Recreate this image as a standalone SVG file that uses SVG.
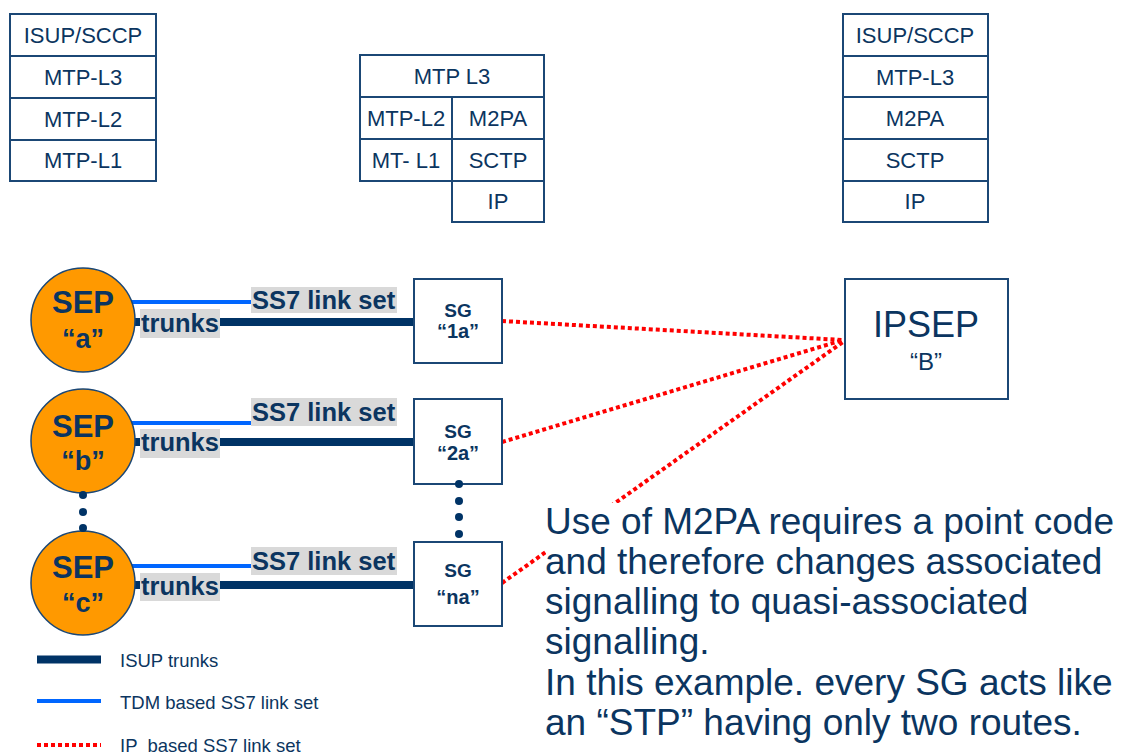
<svg xmlns="http://www.w3.org/2000/svg" width="1122" height="754" viewBox="0 0 1122 754">
<style>
.box{fill:#fff;stroke:#1b4775;stroke-width:2}
.st{font-family:"Liberation Sans",Arial,sans-serif;font-size:22px;fill:#0b3560;text-anchor:middle}
.big{font-family:"Liberation Sans",Arial,sans-serif;fill:#0b3560;text-anchor:middle}
.sep{fill:#ff9900;stroke:#1b4775;stroke-width:1.5}
.sept{font-family:"Liberation Sans",Arial,sans-serif;font-weight:bold;fill:#0b3560;text-anchor:middle}
.lbl{fill:#d9d9d9}
.lblt{font-family:"Liberation Sans",Arial,sans-serif;font-weight:bold;font-size:25.5px;fill:#0b3560}
.tdm{stroke:#0066ff;stroke-width:4}
.isup{stroke:#003366;stroke-width:8}
.ip{stroke:#ff0000;stroke-width:4;stroke-dasharray:4 3;fill:none}
.dot{fill:#003366}
.para{font-family:"Liberation Sans",Arial,sans-serif;font-size:37px;fill:#0b3560}
.leg{font-family:"Liberation Sans",Arial,sans-serif;font-size:18.5px;fill:#0b3560}
</style>

<g id="stack-sep">
<rect class="box" x="10" y="14" width="146" height="42"/>
<rect class="box" x="10" y="56" width="146" height="42"/>
<rect class="box" x="10" y="98" width="146" height="42"/>
<rect class="box" x="10" y="140" width="146" height="41"/>
<text class="st" x="83" y="43">ISUP/SCCP</text>
<text class="st" x="83" y="85">MTP-L3</text>
<text class="st" x="83" y="127">MTP-L2</text>
<text class="st" x="83" y="168">MTP-L1</text>
</g>

<g id="stack-sg">
<rect class="box" x="360" y="55" width="184" height="42"/>
<rect class="box" x="360" y="97" width="92" height="42"/>
<rect class="box" x="452" y="97" width="92" height="42"/>
<rect class="box" x="360" y="139" width="92" height="42"/>
<rect class="box" x="452" y="139" width="92" height="42"/>
<rect class="box" x="452" y="181" width="92" height="41"/>
<text class="st" x="452" y="84">MTP L3</text>
<text class="st" x="406" y="126">MTP-L2</text>
<text class="st" x="498" y="126">M2PA</text>
<text class="st" x="406" y="168">MT- L1</text>
<text class="st" x="498" y="168">SCTP</text>
<text class="st" x="498" y="209">IP</text>
</g>

<g id="stack-ipsep">
<rect class="box" x="843" y="14" width="145" height="42"/>
<rect class="box" x="843" y="56" width="145" height="41"/>
<rect class="box" x="843" y="97" width="145" height="42"/>
<rect class="box" x="843" y="139" width="145" height="42"/>
<rect class="box" x="843" y="181" width="145" height="41"/>
<text class="st" x="915" y="43">ISUP/SCCP</text>
<text class="st" x="915" y="85">MTP-L3</text>
<text class="st" x="915" y="126">M2PA</text>
<text class="st" x="915" y="168">SCTP</text>
<text class="st" x="915" y="209">IP</text>
</g>

<g id="connectors">
<line class="ip" x1="502" y1="321" x2="843" y2="340"/>
<line class="ip" x1="502" y1="442" x2="843" y2="340"/>
<line class="ip" x1="502" y1="583" x2="843" y2="342"/>
<line class="tdm" x1="128" y1="302" x2="252" y2="302"/>
<line class="isup" x1="135" y1="322" x2="414" y2="322"/>
<line class="tdm" x1="128" y1="423" x2="252" y2="423"/>
<line class="isup" x1="135" y1="442" x2="414" y2="442"/>
<line class="tdm" x1="128" y1="566" x2="252" y2="566"/>
<line class="isup" x1="135" y1="585" x2="414" y2="585"/>
</g>

<g id="sep-a">
<circle class="sep" cx="83" cy="320" r="52"/>
<text class="sept" x="83" y="313" font-size="31">SEP</text>
<text class="sept" x="83" y="348" font-size="27">“a”</text>
</g>
<g id="sep-b">
<circle class="sep" cx="83" cy="441" r="52"/>
<text class="sept" x="83" y="437" font-size="31">SEP</text>
<text class="sept" x="83" y="470" font-size="27">“b”</text>
</g>
<g id="sep-c">
<circle class="sep" cx="83" cy="583" r="52"/>
<text class="sept" x="83" y="578" font-size="31">SEP</text>
<text class="sept" x="83" y="612" font-size="27">“c”</text>
</g>

<g id="dots-sep">
<circle class="dot" cx="83" cy="495" r="4"/>
<circle class="dot" cx="83" cy="512" r="4"/>
<circle class="dot" cx="83" cy="528" r="4"/>
</g>

<g id="labels">
<rect class="lbl" x="251" y="287" width="146" height="26"/>
<text class="lblt" x="252" y="309">SS7 link set</text>
<rect class="lbl" x="140" y="309" width="80" height="29"/>
<text class="lblt" x="141" y="332">trunks</text>
<rect class="lbl" x="251" y="398" width="146" height="28"/>
<text class="lblt" x="252" y="421">SS7 link set</text>
<rect class="lbl" x="140" y="429" width="80" height="29"/>
<text class="lblt" x="141" y="451">trunks</text>
<rect class="lbl" x="251" y="547" width="146" height="28"/>
<text class="lblt" x="252" y="570">SS7 link set</text>
<rect class="lbl" x="140" y="573" width="80" height="28"/>
<text class="lblt" x="141" y="595">trunks</text>
</g>

<g id="sg-1a">
<rect class="box" x="414" y="279" width="88" height="84"/>
<text class="sept" x="458" y="317" font-size="19">SG</text>
<text class="sept" x="458" y="338" font-size="20">“1a”</text>
</g>
<g id="sg-2a">
<rect class="box" x="414" y="399" width="88" height="85"/>
<text class="sept" x="458" y="438" font-size="19">SG</text>
<text class="sept" x="458" y="460" font-size="20">“2a”</text>
</g>
<g id="sg-na">
<rect class="box" x="414" y="542" width="88" height="84"/>
<text class="sept" x="458" y="577" font-size="19">SG</text>
<text class="sept" x="458" y="604" font-size="20">“na”</text>
</g>

<g id="dots-sg">
<circle class="dot" cx="459" cy="484" r="4"/>
<circle class="dot" cx="459" cy="501" r="4"/>
<circle class="dot" cx="459" cy="517" r="4"/>
<circle class="dot" cx="459" cy="534" r="4"/>
</g>

<g id="ipsep-b">
<rect class="box" x="845" y="279" width="163" height="120"/>
<text class="big" x="926" y="337" style="font-size:36px">IPSEP</text>
<text class="big" x="926" y="370" style="font-size:24px">“B”</text>
</g>

<g id="note">
<rect x="546" y="503" width="576" height="251" fill="#fff"/>
<text class="para" x="545" y="534">Use of M2PA requires a point code</text>
<text class="para" x="545" y="574">and therefore changes associated</text>
<text class="para" x="545" y="614">signalling to quasi-associated</text>
<text class="para" x="545" y="654">signalling.</text>
<text class="para" x="545" y="695">In this example. every SG acts like</text>
<text class="para" x="545" y="735">an “STP” having only two routes.</text>
</g>

<g id="legend">
<line class="isup" x1="37" y1="659.5" x2="101" y2="659.5" stroke-width="9"/>
<text class="leg" x="120" y="667">ISUP trunks</text>
<line class="tdm" x1="37" y1="701" x2="101" y2="701"/>
<text class="leg" x="120" y="709">TDM based SS7 link set</text>
<line class="ip" x1="37" y1="745" x2="101" y2="745"/>
<text class="leg" x="120" y="752" xml:space="preserve">IP  based SS7 link set</text>
</g>
</svg>
